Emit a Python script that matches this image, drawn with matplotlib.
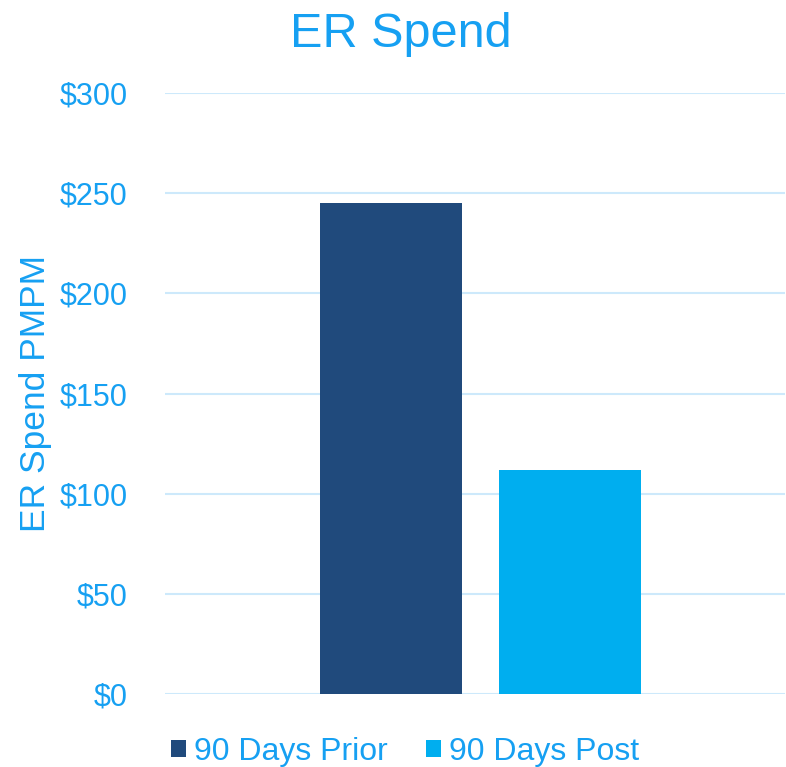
import matplotlib.pyplot as plt
from matplotlib.ticker import FuncFormatter

plt.rcParams['font.family'] = ['Liberation Sans', 'DejaVu Sans']

# Data
series = ['90 Days Prior', '90 Days Post']
values = [245, 112]
colors = ['#204a7c', '#00aeef']
yticks = [0, 50, 100, 150, 200, 250, 300]

text_color = '#16a0f2'
grid_color = '#cde9fb'

fig = plt.figure(figsize=(7.86, 7.67), dpi=100)
ax = fig.add_axes([0.21, 0.0952, 0.789, 0.7835])

offsets = [-0.1355, 0.153]
width = 0.229
for name, val, col, off in zip(series, values, colors, offsets):
    ax.bar(off, val, width=width, color=col, label=name, zorder=3)

ax.set_xlim(-0.5, 0.5)
ax.set_ylim(0, 300)
ax.set_yticks(yticks)
ax.yaxis.set_major_formatter(FuncFormatter(lambda v, p: f'${v:.0f}'))
ax.set_xticks([])
ax.tick_params(axis='y', length=0, pad=27, labelsize=22, labelcolor=text_color)
ax.grid(axis='y', color=grid_color, linewidth=1.5, zorder=0)
for s in ax.spines.values():
    s.set_visible(False)

ax.set_ylabel('ER Spend PMPM', fontsize=25.5, color=text_color)
ax.yaxis.set_label_coords(-0.183, 0.50)

fig.text(401 / 786, 1 - 47 / 767, 'ER Spend', fontsize=35, color=text_color,
         ha='center', va='baseline')

leg = fig.legend(loc='center', bbox_to_anchor=(405 / 786, 1 - 752 / 767), ncol=2,
                 frameon=False, fontsize=23, handlelength=0.47, handleheight=0.47,
                 handletextpad=0.25, columnspacing=1.2, borderaxespad=0)
for t in leg.get_texts():
    t.set_color(text_color)

fig.savefig('out.png', dpi=100)
